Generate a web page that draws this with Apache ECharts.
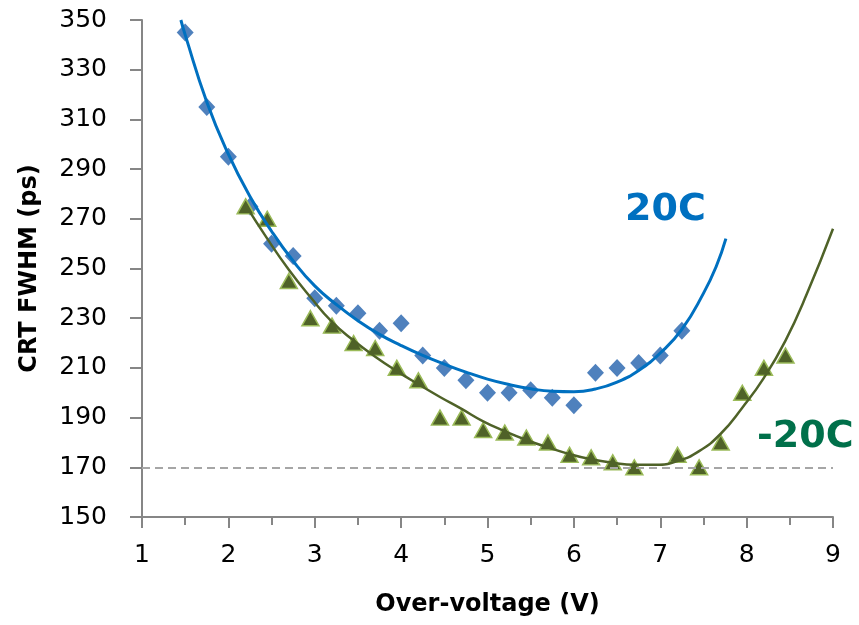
<!DOCTYPE html>
<html>
<head>
<meta charset="utf-8">
<script src="https://cdn.jsdelivr.net/npm/echarts@6/dist/echarts.min.js"></script>
<style>
  html, body { margin: 0; padding: 0; background: #fff; }
  #chart { width: 859px; height: 625px; }
</style>
</head>
<body>
<div id="chart"></div>
<script>
  // measured points, [over-voltage V, CRT FWHM ps]
  const warm = [
    [1.5, 345], [1.75, 315], [2.0, 295], [2.25, 275], [2.5, 260], [2.75, 255],
    [3.0, 238], [3.25, 235], [3.5, 232], [3.75, 225], [4.0, 228], [4.25, 215],
    [4.5, 210], [4.75, 205], [5.0, 200], [5.25, 200], [5.5, 201], [5.75, 198],
    [6.0, 195], [6.25, 208], [6.5, 210], [6.75, 212], [7.0, 215], [7.25, 225]
  ];
  const cold = [
    [2.2, 275], [2.45, 270], [2.7, 245], [2.95, 230], [3.2, 227], [3.45, 220],
    [3.7, 218], [3.95, 210], [4.2, 205], [4.45, 190], [4.7, 190], [4.95, 185],
    [5.2, 184], [5.45, 182], [5.7, 180], [5.95, 175], [6.2, 174], [6.45, 172],
    [6.7, 170], [7.2, 175], [7.45, 170], [7.7, 180], [7.95, 200], [8.2, 210],
    [8.45, 215]
  ];
  // trend lines
  const warmFit = [
    [1.45, 350], [1.5, 344], [1.75, 317], [2.0, 296], [2.25, 279], [2.5, 265],
    [2.75, 253], [3.0, 243], [3.25, 235.5], [3.5, 229], [3.75, 223.5], [4.0, 219],
    [4.25, 215], [4.5, 211.5], [4.75, 208.3], [5.0, 205.5], [5.25, 203.3],
    [5.5, 201.6], [5.75, 200.6], [6.0, 200.4], [6.25, 201.5], [6.5, 204.3],
    [6.75, 209], [7.0, 216], [7.25, 225.5], [7.5, 240], [7.65, 251], [7.76, 262]
  ];
  const coldFit = [
    [2.2, 275.5], [2.45, 262], [2.7, 249.5], [2.95, 238.5], [3.2, 228.5], [3.45, 221],
    [3.7, 214.5], [3.95, 208.7], [4.2, 203.4], [4.45, 198.3], [4.7, 193.5], [4.95, 188.5],
    [5.2, 184.5], [5.45, 181], [5.7, 178], [5.95, 175.3], [6.2, 173.2], [6.45, 171.8],
    [6.7, 171], [6.95, 171], [7.2, 172.5], [7.45, 176.5], [7.7, 183.5], [7.95, 194],
    [8.2, 206], [8.45, 221], [8.7, 240], [9.0, 266]
  ];
  const refLevel = 170;

  const chart = echarts.init(document.getElementById('chart'));
  const axisGrey = '#868686';
  const font = 'DejaVu Sans';

  chart.setOption({
    animation: false,
    grid: { left: 142, right: 26, top: 20, bottom: 108 },
    xAxis: {
      type: 'value',
      min: 1,
      max: 9,
      interval: 1,
      name: 'Over-voltage (V)',
      nameLocation: 'middle',
      nameGap: 76,
      nameTextStyle: { fontFamily: font, fontWeight: 'bold', fontSize: 24, color: '#000' },
      axisLine: { lineStyle: { color: axisGrey, width: 2 } },
      axisTick: { length: 11, lineStyle: { color: axisGrey, width: 2 } },
      minorTick: { show: true, splitNumber: 2, length: 8, lineStyle: { color: axisGrey, width: 2 } },
      axisLabel: { fontFamily: font, fontSize: 25, color: '#000', margin: 26 },
      splitLine: { show: false }
    },
    yAxis: {
      type: 'value',
      min: 150,
      max: 350,
      interval: 20,
      name: 'CRT FWHM (ps)',
      nameLocation: 'middle',
      nameGap: 100,
      nameTextStyle: { fontFamily: font, fontWeight: 'bold', fontSize: 24, color: '#000' },
      axisLine: { show: true, lineStyle: { color: axisGrey, width: 2 } },
      axisTick: { show: true, length: 12, lineStyle: { color: axisGrey, width: 2 } },
      axisLabel: { fontFamily: font, fontSize: 25, color: '#000', margin: 35 },
      splitLine: { show: false }
    },
    series: [
      {
        type: 'scatter',
        data: warm,
        symbol: 'diamond',
        symbolSize: [17, 18],
        itemStyle: { color: '#4F81BD', opacity: 1 },
        z: 2
      },
      {
        type: 'scatter',
        data: cold,
        symbol: 'triangle',
        symbolSize: [17, 15],
        itemStyle: { color: '#4F6228', borderColor: '#9BBB59', borderWidth: 1.5, opacity: 1 },
        z: 2
      },
      {
        type: 'line',
        data: warmFit,
        smooth: 0.5,
        symbol: 'none',
        lineStyle: { color: '#0070C0', width: 3 },
        z: 3
      },
      {
        type: 'line',
        data: coldFit,
        smooth: 0.5,
        symbol: 'none',
        lineStyle: { color: '#4F6228', width: 2.5 },
        z: 3,
        markLine: {
          silent: true,
          symbol: 'none',
          label: { show: false },
          lineStyle: { color: '#A6A6A6', type: [8, 5], width: 2 },
          data: [{ yAxis: refLevel }]
        }
      }
    ],
    graphic: [
      {
        type: 'text',
        left: 625,
        top: 191,
        style: { text: '20C', fontFamily: font, fontWeight: 'bold', fontSize: 38, fill: '#0070C0' }
      },
      {
        type: 'text',
        left: 757,
        top: 418,
        style: { text: '-20C', fontFamily: font, fontWeight: 'bold', fontSize: 38, fill: '#00704A' }
      }
    ]
  });
</script>
</body>
</html>
